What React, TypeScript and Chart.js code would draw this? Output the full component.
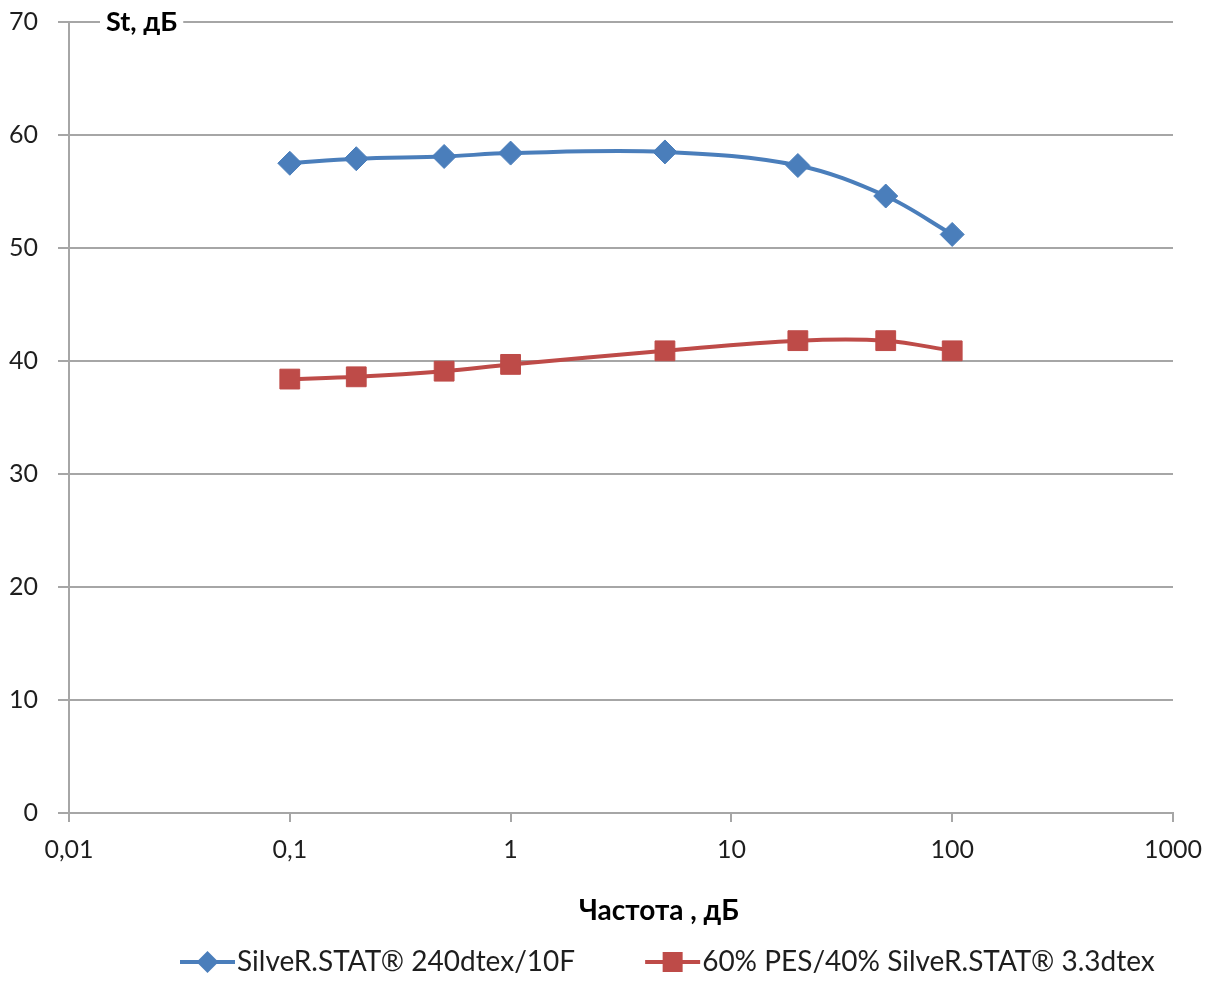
import React, { useEffect, useRef } from 'react';
import { Chart, registerables } from 'chart.js';

Chart.register(...registerables);

const frequencies = [0.1, 0.2, 0.5, 1, 5, 20, 50, 100];
const silverStat240 = [57.5, 57.9, 58.1, 58.4, 58.5, 57.3, 54.6, 51.2];
const pesBlend = [38.4, 38.6, 39.1, 39.7, 40.9, 41.8, 41.8, 40.9];
const seriesNames = ['SilveR.STAT® 240dtex/10F', '60% PES/40% SilveR.STAT® 3.3dtex'];
const seriesColors = ['#4A7EBB', '#BE4B48'];
const xTickValues = [0.01, 0.1, 1, 10, 100, 1000];
const xTickLabels = ['0,01', '0,1', '1', '10', '100', '1000'];
const yTickValues = [0, 10, 20, 30, 40, 50, 60, 70];
const yAxisTitle = 'St, дБ';
const xAxisTitle = 'Частота , дБ';

const FONT = 'Lato, "Open Sans", sans-serif';
const GRID = '#A6A6A6';
const TEXT = '#1E1E1E';

function drawMarker(ctx: CanvasRenderingContext2D, kind: number, x: number, y: number) {
  ctx.fillStyle = seriesColors[kind];
  ctx.beginPath();
  if (kind === 0) {
    const r = 11;
    ctx.moveTo(x, y - r);
    ctx.lineTo(x + r, y);
    ctx.lineTo(x, y + r);
    ctx.lineTo(x - r, y);
    ctx.closePath();
  } else {
    const h = 10;
    ctx.rect(x - h, y - h, 2 * h, 2 * h);
  }
  ctx.fill();
}

const annotationsPlugin = {
  id: 'annotations',
  afterDraw(chart: any) {
    const { ctx, chartArea } = chart;
    ctx.save();
    // y-axis title at the top of the value axis
    ctx.font = `bold 27px ${FONT}`;
    const tw = ctx.measureText(yAxisTitle).width;
    const tx = chartArea.left + 37;
    ctx.fillStyle = '#FFFFFF';
    ctx.fillRect(tx - 6, chartArea.top - 6, tw + 12, 12);
    ctx.fillStyle = '#000000';
    ctx.textBaseline = 'middle';
    ctx.textAlign = 'left';
    ctx.fillText(yAxisTitle, tx, chartArea.top);

    // x-axis title
    ctx.font = `bold 28px ${FONT}`;
    ctx.textAlign = 'center';
    ctx.fillText(xAxisTitle, (chartArea.left + chartArea.right) / 2 + 38, chartArea.bottom + 98);

    // legend
    ctx.font = `28px ${FONT}`;
    ctx.textAlign = 'left';
    const ly = chartArea.bottom + 149;
    let x = 180;
    seriesNames.forEach((name, i) => {
      ctx.strokeStyle = seriesColors[i];
      ctx.lineWidth = 4;
      ctx.beginPath();
      ctx.moveTo(x, ly);
      ctx.lineTo(x + 55, ly);
      ctx.stroke();
      drawMarker(ctx, i, x + 27.5, ly);
      ctx.fillStyle = TEXT;
      ctx.fillText(name, x + 57, ly);
      x += 57 + ctx.measureText(name).width + 70;
    });
    ctx.restore();
  },
};

export default function App() {
  const canvasRef = useRef<HTMLCanvasElement | null>(null);

  useEffect(() => {
    if (!canvasRef.current) return;
    const toPoints = (vals: number[]) => frequencies.map((f, i) => ({ x: f, y: vals[i] }));
    const chart = new Chart(canvasRef.current, {
      type: 'line',
      data: {
        datasets: [
          {
            label: seriesNames[0],
            data: toPoints(silverStat240),
            borderColor: seriesColors[0],
            backgroundColor: seriesColors[0],
            borderWidth: 4,
            pointStyle: 'rectRot',
            pointRadius: 12,
            pointBorderWidth: 1,
            tension: 0.35,
          },
          {
            label: seriesNames[1],
            data: toPoints(pesBlend),
            borderColor: seriesColors[1],
            backgroundColor: seriesColors[1],
            borderWidth: 4,
            pointStyle: 'rect',
            pointRadius: 14,
            pointBorderWidth: 1,
            tension: 0.35,
          },
        ],
      },
      options: {
        animation: false,
        responsive: true,
        maintainAspectRatio: false,
        layout: { padding: { left: 0, right: 43, top: 22, bottom: 0 } },
        plugins: {
          legend: { display: false },
          tooltip: { enabled: false },
        },
        scales: {
          x: {
            type: 'logarithmic',
            min: 0.01,
            max: 1000,
            afterBuildTicks: (scale: any) => {
              scale.ticks = xTickValues.map((v) => ({ value: v }));
            },
            afterFit: (scale: any) => {
              scale.height = 169;
              scale.paddingLeft = 0;
              scale.paddingRight = 0;
            },
            ticks: {
              autoSkip: false,
              maxRotation: 0,
              padding: 13,
              color: TEXT,
              font: { family: FONT, size: 25 },
              callback: (value: any) => {
                const idx = xTickValues.indexOf(Number(value));
                return idx >= 0 ? xTickLabels[idx] : '';
              },
            },
            grid: {
              drawOnChartArea: false,
              drawTicks: true,
              tickLength: 9,
              color: GRID,
              lineWidth: 2,
            },
            border: { display: true, color: GRID, width: 2 },
          },
          y: {
            type: 'linear',
            min: 0,
            max: 70,
            afterBuildTicks: (scale: any) => {
              scale.ticks = yTickValues.map((v) => ({ value: v }));
            },
            afterFit: (scale: any) => {
              scale.width = 69;
              scale.paddingTop = 0;
              scale.paddingBottom = 0;
            },
            ticks: {
              padding: 20,
              color: TEXT,
              font: { family: FONT, size: 25 },
            },
            grid: {
              drawTicks: true,
              tickLength: 11,
              color: GRID,
              lineWidth: 2,
            },
            border: { display: true, color: GRID, width: 2 },
          },
        },
      },
      plugins: [annotationsPlugin],
    });
    return () => chart.destroy();
  }, []);

  return (
    <div style={{ position: 'fixed', left: 0, top: 0, width: 1216, height: 982, background: '#fff' }}>
      <canvas ref={canvasRef} />
    </div>
  );
}
